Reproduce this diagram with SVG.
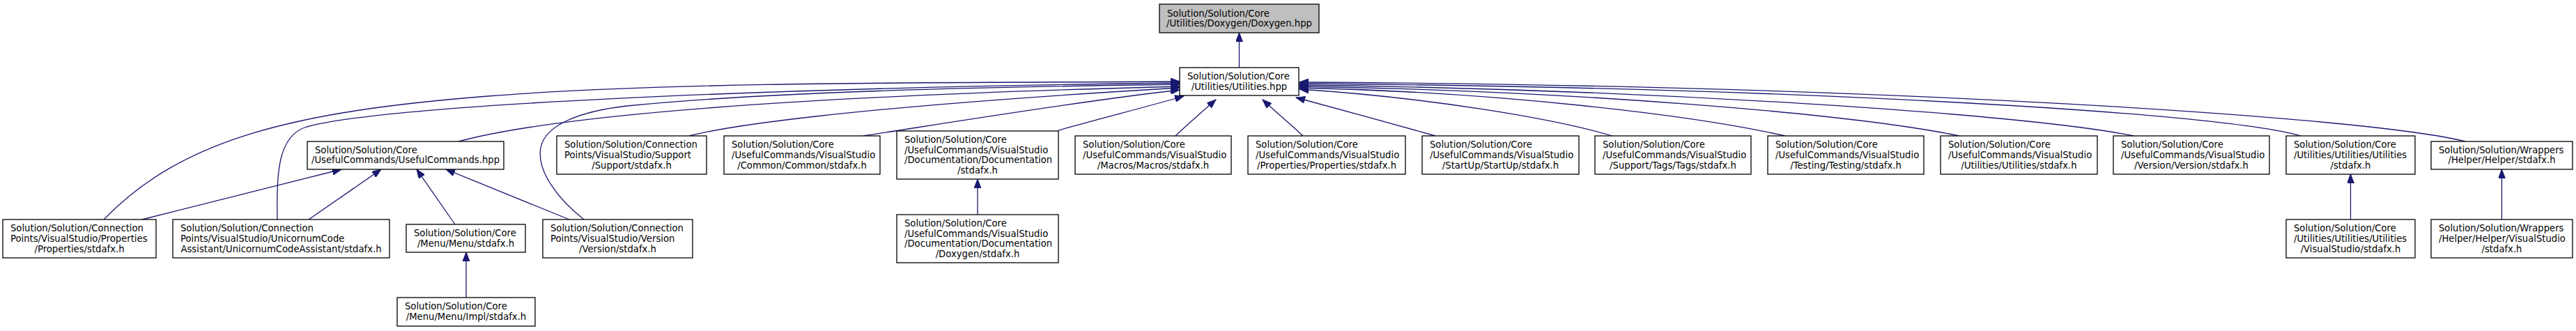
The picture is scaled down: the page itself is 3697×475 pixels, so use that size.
<svg xmlns="http://www.w3.org/2000/svg" width="3697" height="475" viewBox="0 0 3697 475">
<style>
.n rect{fill:#fff;stroke:#000;stroke-width:1.3}
.root rect{fill:#bfbfbf}
text{font-family:"DejaVu Sans","Liberation Sans",sans-serif;font-size:13.2px;fill:#000}
.c{text-anchor:middle}
#edges path{fill:none;stroke:#191970;stroke-width:1.3;marker-end:url(#arr)}
</style>
<defs>
<marker id="arr" markerWidth="14" markerHeight="10" refX="13" refY="5" orient="auto" markerUnits="userSpaceOnUse"><path d="M0,0 L13,5 L0,10 z" fill="#191970" stroke="#191970" stroke-width="1"/></marker>
</defs>
<rect width="3697" height="475" fill="#fff"/>
<g id="edges">
<path d="M1778.5,97 L1778.5,47"/>
<path d="M149,315 C260,200 420,160 700,138 S1400,119 1693,117"/>
<path d="M398,315 C397,250 398,195 440,182 C560,150 1100,126 1693,119"/>
<path d="M838,315 C800,285 770,245 776,212 C782,180 830,160 900,152 C1100,132 1400,125 1693,121"/>
<path d="M658,203 C800,165 1150,138 1693,124"/>
<path d="M989,195 C1040,182 1200,155 1693,126"/>
<path d="M1239,195 C1350,178 1550,145 1693,129"/>
<path d="M1519,187 C1580,170 1650,152 1699,138"/>
<path d="M1687,195 C1705,178 1728,158 1745,143"/>
<path d="M1870,195 C1852,178 1828,158 1812,143"/>
<path d="M2060,195 C2000,178 1920,156 1860,140"/>
<path d="M2314,195 C2230,170 2050,140 1865,128"/>
<path d="M2562,195 C2430,165 2150,132 1865,126"/>
<path d="M2812,195 C2650,162 2250,130 1865,124"/>
<path d="M3062,195 C2900,162 2350,128 1865,122"/>
<path d="M3302,195 C3180,160 2550,125 1865,120"/>
<path d="M3538,203 C3400,168 2700,122 1865,118"/>
<path d="M204,315 L490,243"/>
<path d="M443,315 L547,243"/>
<path d="M653,322 L598,243"/>
<path d="M817,315 L640,243"/>
<path d="M669,427 L669,362"/>
<path d="M1403,308 L1403,257"/>
<path d="M3373.5,315 L3373.5,250"/>
<path d="M3590.5,315 L3590.5,243"/>
</g>
<g id="n_doxygen_hpp" class="n root"><rect x="1664" y="6" width="229" height="41"/><text x="1675" y="23.7">Solution/Solution/Core</text><text class="c" x="1778.5" y="38.4">/Utilities/Doxygen/Doxygen.hpp</text></g>
<g id="n_utilities_hpp" class="n"><rect x="1693" y="97" width="171" height="40"/><text x="1704" y="114.2">Solution/Solution/Core</text><text class="c" x="1778.5" y="128.9">/Utilities/Utilities.hpp</text></g>
<g id="n_usefulcommands_hpp" class="n"><rect x="441" y="203" width="282" height="40"/><text x="452" y="219.7">Solution/Solution/Core</text><text class="c" x="582" y="234.4">/UsefulCommands/UsefulCommands.hpp</text></g>
<g id="n_support" class="n"><rect x="799" y="195" width="215" height="55"/><text x="810" y="212.3">Solution/Solution/Connection</text><text x="810" y="227">Points/VisualStudio/Support</text><text class="c" x="906.5" y="241.7">/Support/stdafx.h</text></g>
<g id="n_common" class="n"><rect x="1039" y="195" width="224" height="55"/><text x="1050" y="212.3">Solution/Solution/Core</text><text x="1050" y="227">/UsefulCommands/VisualStudio</text><text class="c" x="1151" y="241.7">/Common/Common/stdafx.h</text></g>
<g id="n_documentation" class="n"><rect x="1287" y="188" width="232" height="69"/><text x="1298" y="205">Solution/Solution/Core</text><text x="1298" y="219.7">/UsefulCommands/VisualStudio</text><text x="1298" y="234.4">/Documentation/Documentation</text><text class="c" x="1403" y="249">/stdafx.h</text></g>
<g id="n_macros" class="n"><rect x="1543" y="195" width="224" height="55"/><text x="1554" y="212.3">Solution/Solution/Core</text><text x="1554" y="227">/UsefulCommands/VisualStudio</text><text class="c" x="1655" y="241.7">/Macros/Macros/stdafx.h</text></g>
<g id="n_properties_vs" class="n"><rect x="1791" y="195" width="226" height="55"/><text x="1802" y="212.3">Solution/Solution/Core</text><text x="1802" y="227">/UsefulCommands/VisualStudio</text><text class="c" x="1904" y="241.7">/Properties/Properties/stdafx.h</text></g>
<g id="n_startup" class="n"><rect x="2041" y="195" width="225" height="55"/><text x="2052" y="212.3">Solution/Solution/Core</text><text x="2052" y="227">/UsefulCommands/VisualStudio</text><text class="c" x="2153.5" y="241.7">/StartUp/StartUp/stdafx.h</text></g>
<g id="n_tags" class="n"><rect x="2289" y="195" width="224" height="55"/><text x="2300" y="212.3">Solution/Solution/Core</text><text x="2300" y="227">/UsefulCommands/VisualStudio</text><text class="c" x="2401" y="241.7">/Support/Tags/Tags/stdafx.h</text></g>
<g id="n_testing" class="n"><rect x="2537" y="195" width="224" height="55"/><text x="2548" y="212.3">Solution/Solution/Core</text><text x="2548" y="227">/UsefulCommands/VisualStudio</text><text class="c" x="2649" y="241.7">/Testing/Testing/stdafx.h</text></g>
<g id="n_utilities_vs" class="n"><rect x="2785" y="195" width="225" height="55"/><text x="2796" y="212.3">Solution/Solution/Core</text><text x="2796" y="227">/UsefulCommands/VisualStudio</text><text class="c" x="2897.5" y="241.7">/Utilities/Utilities/stdafx.h</text></g>
<g id="n_version_vs" class="n"><rect x="3033" y="195" width="224" height="55"/><text x="3044" y="212.3">Solution/Solution/Core</text><text x="3044" y="227">/UsefulCommands/VisualStudio</text><text class="c" x="3145" y="241.7">/Version/Version/stdafx.h</text></g>
<g id="n_utilities_utilities" class="n"><rect x="3281" y="195" width="185" height="55"/><text x="3292" y="212.3">Solution/Solution/Core</text><text x="3292" y="227">/Utilities/Utilities/Utilities</text><text class="c" x="3373.5" y="241.7">/stdafx.h</text></g>
<g id="n_wrappers_helper" class="n"><rect x="3489" y="203" width="203" height="40"/><text x="3500" y="219.7">Solution/Solution/Wrappers</text><text class="c" x="3590.5" y="234.4">/Helper/Helper/stdafx.h</text></g>
<g id="n_properties_cp" class="n"><rect x="4" y="315" width="220" height="55"/><text x="15" y="332.3">Solution/Solution/Connection</text><text x="15" y="347">Points/VisualStudio/Properties</text><text class="c" x="114" y="361.7">/Properties/stdafx.h</text></g>
<g id="n_unicornum" class="n"><rect x="248" y="315" width="311" height="55"/><text x="259" y="332.3">Solution/Solution/Connection</text><text x="259" y="347">Points/VisualStudio/UnicornumCode</text><text class="c" x="403.5" y="361.7">Assistant/UnicornumCodeAssistant/stdafx.h</text></g>
<g id="n_menu" class="n"><rect x="583" y="322" width="171" height="40"/><text x="594" y="339">Solution/Solution/Core</text><text class="c" x="668.5" y="353.7">/Menu/Menu/stdafx.h</text></g>
<g id="n_version_cp" class="n"><rect x="779" y="315" width="215" height="55"/><text x="790" y="332.3">Solution/Solution/Connection</text><text x="790" y="347">Points/VisualStudio/Version</text><text class="c" x="886.5" y="361.7">/Version/stdafx.h</text></g>
<g id="n_doxygen_stdafx" class="n"><rect x="1287" y="308" width="232" height="69"/><text x="1298" y="325">Solution/Solution/Core</text><text x="1298" y="339.7">/UsefulCommands/VisualStudio</text><text x="1298" y="354.4">/Documentation/Documentation</text><text class="c" x="1403" y="369">/Doxygen/stdafx.h</text></g>
<g id="n_utilities_utilities_vs" class="n"><rect x="3281" y="315" width="185" height="55"/><text x="3292" y="332.3">Solution/Solution/Core</text><text x="3292" y="347">/Utilities/Utilities/Utilities</text><text class="c" x="3373.5" y="361.7">/VisualStudio/stdafx.h</text></g>
<g id="n_helper_vs" class="n"><rect x="3489" y="315" width="203" height="55"/><text x="3500" y="332.3">Solution/Solution/Wrappers</text><text x="3500" y="347">/Helper/Helper/VisualStudio</text><text class="c" x="3590.5" y="361.7">/stdafx.h</text></g>
<g id="n_menu_impl" class="n"><rect x="570" y="427" width="198" height="41"/><text x="581" y="444.2">Solution/Solution/Core</text><text class="c" x="669" y="458.9">/Menu/Menu/Impl/stdafx.h</text></g>
</svg>
